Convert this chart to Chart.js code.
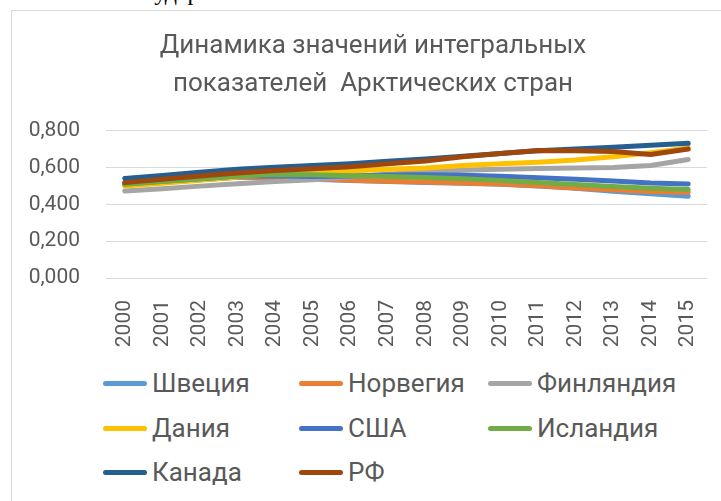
<!DOCTYPE html>
<html>
<head>
<meta charset="utf-8">
<script src="https://cdn.jsdelivr.net/npm/chart.js@4.4.1/dist/chart.umd.min.js"></script>
<style>
  html, body { margin:0; padding:0; width:721px; height:501px; overflow:hidden; background:#fff; }
  #top { position:absolute; left:122px; top:-21px; font-family:"Liberation Serif", serif; font-size:24px; color:#000; white-space:nowrap; }
  #frame { position:absolute; left:11px; top:10px; width:740px; height:520px; border:1px solid #d9d9d9; box-sizing:border-box; }
  #wrap { position:absolute; left:12px; top:11px; width:722px; height:349px; }
  #legend { position:absolute; left:103px; top:368px; width:610px; font-family:Roboto, "Open Sans", sans-serif; font-size:26px; color:#595959; }
  .item { position:absolute; display:flex; align-items:center; white-space:nowrap; line-height:30px; }
  .sw { width:44px; height:5px; border-radius:3px; margin-right:5px; }
</style>
</head>
<body>
<div id="top">государства</div>
<div id="frame"></div>
<div id="wrap"><canvas id="c" width="722" height="349"></canvas></div>
<div id="legend"></div>
<script>
const years = ["2000","2001","2002","2003","2004","2005","2006","2007","2008","2009","2010","2011","2012","2013","2014","2015"];
const titleLines = ["Динамика значений интегральных", "показателей  Арктических стран"];
const yTicks = [0, 0.2, 0.4, 0.6, 0.8];

const sweden  = [0.505,0.520,0.535,0.548,0.545,0.538,0.530,0.525,0.520,0.515,0.510,0.500,0.488,0.472,0.458,0.445];
const norway  = [0.510,0.522,0.535,0.548,0.548,0.540,0.532,0.527,0.522,0.517,0.512,0.502,0.490,0.480,0.471,0.467];
const finland = [0.473,0.486,0.500,0.513,0.525,0.535,0.550,0.565,0.578,0.586,0.592,0.596,0.598,0.602,0.612,0.645];
const denmark = [0.500,0.515,0.532,0.550,0.562,0.572,0.582,0.592,0.598,0.612,0.622,0.630,0.642,0.660,0.682,0.707];
const usa     = [0.513,0.527,0.540,0.555,0.557,0.553,0.555,0.560,0.562,0.559,0.554,0.546,0.537,0.528,0.517,0.512];
const iceland = [0.510,0.525,0.540,0.555,0.563,0.562,0.557,0.552,0.547,0.540,0.531,0.520,0.509,0.498,0.489,0.482];
const canada  = [0.541,0.558,0.575,0.592,0.603,0.612,0.622,0.635,0.648,0.662,0.678,0.692,0.702,0.712,0.722,0.733];
const rf      = [0.519,0.537,0.555,0.572,0.585,0.595,0.605,0.622,0.637,0.660,0.678,0.694,0.693,0.688,0.672,0.702];

const names  = ["Швеция","Норвегия","Финляндия","Дания","США","Исландия","Канада","РФ"];
const series = [sweden, norway, finland, denmark, usa, iceland, canada, rf];
const colors = ["#5B9BD5","#ED7D31","#A5A5A5","#FFC000","#4472C4","#70AD47","#255E91","#9E480E"];

const FONT = 'Roboto, "Open Sans", sans-serif';
const datasets = series.map((d, i) => ({
  label: names[i], data: d, borderColor: colors[i], backgroundColor: colors[i],
  borderWidth: 5, pointRadius: 0, tension: 0, fill: false,
  borderCapStyle: 'round', borderJoinStyle: 'round', order: -i, yAxisID: 'y'
}));

new Chart(document.getElementById('c'), {
  type: 'line',
  data: { labels: years, datasets },
  options: {
    responsive: false, animation: false, devicePixelRatio: 1,
    layout: { padding: 0 },
    plugins: {
      legend: { display: false },
      tooltip: { enabled: false },
      title: {
        display: true, text: titleLines, color: '#595959',
        font: { family: FONT, size: 26, weight: 'normal', lineHeight: 1.4615 },
        padding: { top: 17, bottom: 27 }
      }
    },
    scales: {
      x: {
        offset: true,
        grid: { display: false },
        border: { display: false },
        ticks: { color: '#595959', font: { family: FONT, size: 21 }, maxRotation: 90, minRotation: 90, padding: 14, autoSkip: false },
        afterFit: s => { s.height = 82; }
      },
      y: {
        min: 0, max: 0.8,
        afterBuildTicks: s => { s.ticks = yTicks.map(v => ({ value: v })); },
        grid: { color: '#d9d9d9', lineWidth: 1, drawTicks: false },
        border: { display: false },
        ticks: { color: '#595959', font: { family: FONT, size: 21 }, padding: 26,
                 callback: v => v.toFixed(3).replace('.', ',') },
        afterFit: s => { s.width = 94; }
      },
      yR: {
        position: 'right', min: 0, max: 0.8,
        grid: { display: false }, border: { display: false },
        ticks: { display: false },
        afterFit: s => { s.width = 27; }
      }
    }
  }
});

// legend
const leg = document.getElementById('legend');
const colX = [0, 196, 385];
const rowY = [0, 45, 89];
names.forEach((n, i) => {
  const el = document.createElement('div');
  el.className = 'item';
  el.style.left = colX[i % 3] + 'px';
  el.style.top = rowY[Math.floor(i / 3)] + 'px';
  el.innerHTML = '<div class="sw" style="background:' + colors[i] + '"></div><span>' + n + '</span>';
  leg.appendChild(el);
});
</script>
</body>
</html>
